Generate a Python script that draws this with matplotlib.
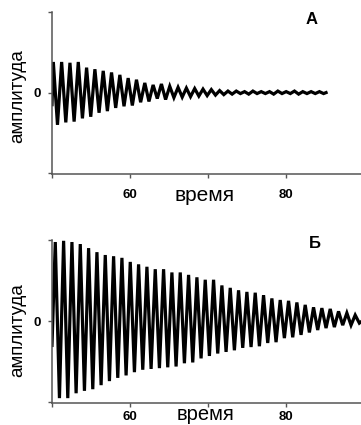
import numpy as np
import matplotlib
matplotlib.use("Agg")
import matplotlib.pyplot as plt
from matplotlib import font_manager

# ---- data ----
# Panel A: decaying oscillation, amplitudes of successive maxima / minima
a_start_time = 50.17
a_period = 1.065
a_peaks = [0.38, 0.38, 0.37, 0.38, 0.31, 0.29, 0.27, 0.25, 0.22, 0.18, 0.16,
           0.12, 0.095, 0.107, 0.078, 0.065, 0.056, 0.05, 0.043, 0.037, 0.025,
           0.019, 0.019, 0.012, 0.019, 0.012, 0.012, 0.019, 0.012, 0.019,
           0.012, 0.012, 0.012]
a_troughs = [0.40, 0.37, 0.36, 0.32, 0.30, 0.25, 0.23, 0.19, 0.17, 0.16, 0.12,
             0.11, 0.074, 0.086, 0.062, 0.056, 0.05, 0.043, 0.037, 0.031, 0.025,
             0.019, 0.012, 0.019, 0.012, 0.012, 0.019, 0.012, 0.012, 0.019,
             0.012, 0.012, 0.012]
a_first_value = -0.15
a_end_time = 85.1

# Panel Б
b_start_time = 50.42
b_period = 1.067
b_peaks = [0.975, 0.99, 0.975, 0.95, 0.90, 0.85, 0.815, 0.80, 0.78, 0.73, 0.70,
           0.67, 0.64, 0.64, 0.60, 0.60, 0.57, 0.54, 0.51, 0.51, 0.44, 0.41,
           0.38, 0.36, 0.35, 0.32, 0.28, 0.26, 0.25, 0.23, 0.20, 0.17, 0.16,
           0.15, 0.12, 0.10, 0.074]
b_troughs = [0.95, 0.95, 0.89, 0.86, 0.84, 0.79, 0.74, 0.70, 0.67, 0.63, 0.60,
             0.59, 0.58, 0.57, 0.56, 0.52, 0.51, 0.46, 0.43, 0.40, 0.38, 0.36,
             0.33, 0.32, 0.31, 0.27, 0.26, 0.21, 0.20, 0.17, 0.14, 0.11, 0.086,
             0.074, 0.05, 0.05, 0.025]
b_first_value = -0.30
b_end_time = 89.7

x_ticks = [50, 60, 70, 80, 90]
x_ticklabels = ["", "60", "", "80", ""]
y_ticks = [-1, 0, 1]
y_ticklabels = ["", "0", ""]
panel_letters = ["А", "Б"]
xlabel = "время"
ylabel = "амплитуда"


def build(start_t, period, peaks, troughs, first_val, end_t):
    n = len(peaks)
    tp = start_t + period * np.arange(n)
    tt = tp + period / 2
    t = np.empty(2 * n)
    v = np.empty(2 * n)
    t[0::2] = tp
    t[1::2] = tt
    v[0::2] = np.array(peaks)
    v[1::2] = -np.array(troughs)
    t = np.concatenate([[50.0], t, [end_t]])
    v = np.concatenate([[first_val], v, [0.0]])
    return t, v


# choose a narrow family for the rotated label if available
try:
    font_manager.findfont(font_manager.FontProperties(family="Liberation Sans Narrow"),
                          fallback_to_default=False)
    ylab_family, ylab_size = "Liberation Sans Narrow", 16
except Exception:
    ylab_family, ylab_size = "Liberation Sans", 13.5

W, H = 361, 425
fig = plt.figure(figsize=(W / 100, H / 100), dpi=100)

boxes = [
    (52, 12, 174),   # left px, top px, bottom px
    (52, 240, 403),
]
series = [
    build(a_start_time, a_period, a_peaks, a_troughs, a_first_value, a_end_time),
    build(b_start_time, b_period, b_peaks, b_troughs, b_first_value, b_end_time),
]
xpads = [7.5, 2.5]
letter_pos = [(312, 20), (315, 243)]
ylabel_y = [96, 330]
xlabel_bottom = [205, 424]   # pixel row of the label's lower edge
xlabel_size = [15, 14.5]

tick_font = dict(family="Liberation Sans", weight="bold", size=9.5)
spine_col = "#555555"

for i in range(2):
    l, t, b = boxes[i]
    ax = fig.add_axes([l / W, 1 - b / H, (W - l) / W + 0.02, (b - t) / H])
    tt, vv = series[i]
    ax.plot(tt, vv, color="black", lw=2.3, solid_joinstyle="miter")
    ax.set_xlim(50, 90.5)
    ax.set_ylim(-1.01, 1.0)
    for s in ["top", "right"]:
        ax.spines[s].set_visible(False)
    for s in ["left", "bottom"]:
        ax.spines[s].set_color(spine_col)
        ax.spines[s].set_linewidth(1.1)
    ax.set_xticks(x_ticks)
    ax.set_xticklabels(x_ticklabels, fontdict=tick_font)
    ax.set_yticks(y_ticks)
    ax.set_yticklabels(y_ticklabels, fontdict=tick_font)
    ax.tick_params(axis="x", length=3, width=1, color=spine_col, pad=xpads[i])
    ax.tick_params(axis="y", length=3, width=1, color=spine_col, pad=5)
    ax.patch.set_alpha(0)

    fig.text(letter_pos[i][0] / W, 1 - letter_pos[i][1] / H, panel_letters[i],
             ha="center", va="center", family="Liberation Sans",
             weight="bold", size=12)
    fig.text(17.5 / W, 1 - ylabel_y[i] / H, ylabel, rotation=90,
             ha="center", va="center", family=ylab_family, size=ylab_size)
    fig.text(205 / W, 1 - xlabel_bottom[i] / H, xlabel, ha="center",
             va="bottom", family="Liberation Sans", size=xlabel_size[i])

fig.savefig("out.png", dpi=100)
